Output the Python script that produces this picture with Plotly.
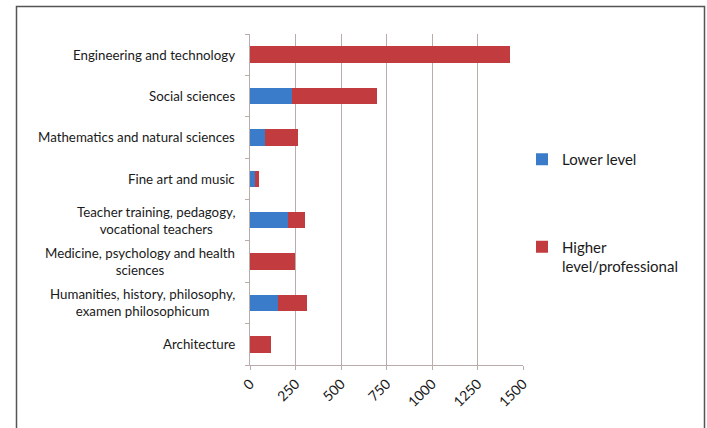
import plotly.graph_objects as go

categories = [
    "Architecture",
    "Humanities, history, philosophy,<br>examen philosophicum",
    "Medicine, psychology and health<br>sciences",
    "Teacher training, pedagogy,<br>vocational teachers",
    "Fine art and music",
    "Mathematics and natural sciences",
    "Social sciences",
    "Engineering and technology",
]
lower_level = [0, 156, 0, 210, 27, 80, 230, 0]
higher_level = [115, 159, 247, 92, 20, 185, 470, 1430]
x_ticks = [0, 250, 500, 750, 1000, 1250, 1500]

FONT = "Lato"
L, R, T, B = 250, 523, 34, 365
W, H = 707, 428

fig = go.Figure()
fig.add_trace(go.Bar(
    y=categories, x=lower_level, orientation="h", name="Lower level",
    marker=dict(color="#3b7cca", line=dict(width=0)), legendgroup="a",
))
fig.add_trace(go.Bar(
    y=categories, x=higher_level, orientation="h", name="Higher<br>level/professional",
    marker=dict(color="#c23b3e", line=dict(width=0)), legendgroup="b",
))

pw = R - L
ph = B - T
def px(x):
    return (x - L) / pw
def py(y):
    return (B - y) / ph

TXT = "#1a1a1a"

annotations = [
    dict(text=c, x=px(237), y=c, xref="paper", yref="y",
         xanchor="right", yanchor="middle", align="center", showarrow=False,
         font=dict(family=FONT, size=13.3, color=TXT))
    for c in categories
]

fig.update_layout(
    width=W, height=H,
    margin=dict(l=L, r=W - R, t=T, b=H - B, autoexpand=False),
    barmode="stack", bargap=0.6,
    plot_bgcolor="white", paper_bgcolor="white",
    font=dict(family=FONT, size=13.3, color=TXT),
    showlegend=True,
    legend=dict(
        x=px(522), y=py(143), xanchor="left", yanchor="top",
        font=dict(family=FONT, size=15, color=TXT),
        traceorder="grouped", tracegroupgap=65, valign="top",
        itemwidth=30, bgcolor="rgba(0,0,0,0)",
    ),
    xaxis=dict(
        range=[0, 1500], tickvals=x_ticks, ticktext=[str(v) for v in x_ticks],
        tickangle=-45, showgrid=True, gridcolor="#b9acab", gridwidth=1.3,
        showline=True, linecolor="#b9acab", linewidth=1.3,
        ticks="outside", ticklen=4, tickcolor="#b9acab",
        zeroline=False, fixedrange=True,
        tickfont=dict(family=FONT, size=14, color=TXT),
    ),
    yaxis=dict(
        categoryorder="array", categoryarray=categories,
        showline=True, linecolor="#b9acab", linewidth=1.3,
        ticks="outside", ticklen=4, tickcolor="#b9acab", tickson="boundaries",
        showticklabels=False,
        showgrid=False, zeroline=False, fixedrange=True,
    ),
    annotations=annotations,
    shapes=[
        dict(type="rect", xref="paper", yref="paper",
             x0=px(16.5), x1=px(704.5), y0=py(440), y1=py(6.5),
             line=dict(color="#555555", width=1.5), fillcolor="rgba(0,0,0,0)", layer="below"),
    ],
)

fig.write_html(
    "out.html",
    config={"displayModeBar": False},
    post_script="document.body.style.margin='0';document.body.style.overflow='hidden';",
)
